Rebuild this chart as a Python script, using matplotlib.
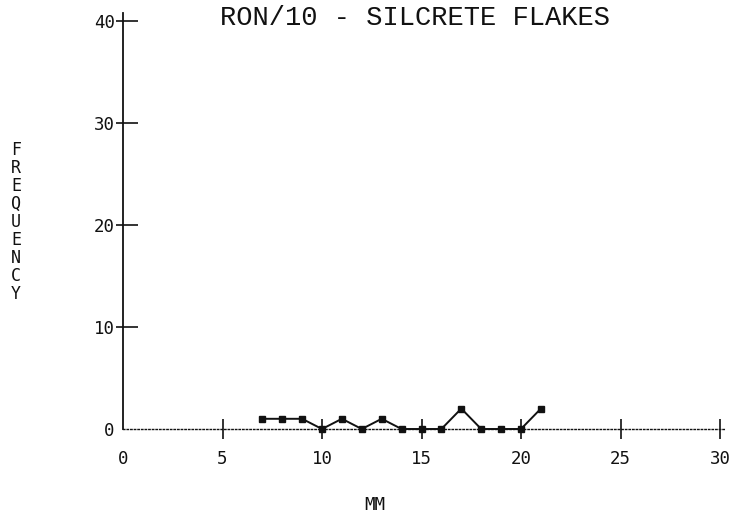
import numpy as np
import matplotlib.pyplot as plt

# flake length (mm) and counts
length_mm = [7, 8, 9, 10, 11, 12, 13, 14, 15, 16, 17, 18, 19, 20, 21]
frequency = [1, 1, 1, 0, 1, 0, 1, 0, 0, 0, 2, 0, 0, 0, 2]

xticks = [0, 5, 10, 15, 20, 25, 30]
yticks = [0, 10, 20, 30, 40]

title = "RON/10 - SILCRETE FLAKES"
xlabel = "MM"
ylabel = "FREQUENCY"

ink = '#111111'
mono = 'DejaVu Sans Mono'

fig = plt.figure(figsize=(7.31, 5.21), dpi=100)
ax = fig.add_axes([123/731, 1 - 429/521, (720 - 123)/731, (429 - 21)/521])

ax.plot(length_mm, frequency, '-s', color=ink, lw=1.4, ms=4,
        clip_on=False, zorder=3)

ax.set_xlim(0, 30)
ax.set_ylim(0, 40)

for s in ['top', 'right']:
    ax.spines[s].set_visible(False)
ax.spines['left'].set_color(ink)
ax.spines['left'].set_linewidth(1.3)
ax.spines['left'].set_bounds(0, 40.8)
ax.spines['bottom'].set_color(ink)
ax.spines['bottom'].set_linewidth(1.0)
ax.spines['bottom'].set_linestyle((0, (1, 1.6)))
ax.spines['bottom'].set_bounds(0, 30.2)

ax.set_xticks(xticks)
ax.set_yticks(yticks)
ax.set_xticklabels([str(v) for v in xticks], family=mono, fontsize=12.5, color=ink)
ax.set_yticklabels([str(v) for v in yticks], family=mono, fontsize=12.5, color=ink)

ax.tick_params(axis='x', direction='inout', length=14, width=1.2, pad=8, colors=ink)
ax.tick_params(axis='y', direction='in', length=11, width=1.2, pad=6, colors=ink)
# short outward stubs on the y ticks
ax.yaxis.remove_overlapping_locs = False
ax.set_yticks(yticks, minor=True)
ax.tick_params(axis='y', which='minor', direction='out', length=5, width=1.2,
               labelleft=False, colors=ink)
ax.xaxis.set_minor_locator(plt.NullLocator())

# no tick marks at the origin, only the labels
ax.xaxis.get_major_ticks()[0].tick1line.set_visible(False)
ax.yaxis.get_major_ticks()[0].tick1line.set_visible(False)
ax.yaxis.get_minor_ticks()[0].tick1line.set_visible(False)

fig.text(415/731, 1 - 18/521, title, family='Liberation Mono', fontsize=19.5,
         color=ink, ha='center', va='center')
fig.text(375/731, 1 - 505/521, xlabel, family=mono, fontsize=12.5,
         color=ink, ha='center', va='center')
fig.text(16/731, 1 - 222/521, "\n".join(ylabel), family=mono, fontsize=12,
         color=ink, ha='center', va='center', linespacing=1.0)

fig.savefig('out.png', dpi=100, facecolor='white')
